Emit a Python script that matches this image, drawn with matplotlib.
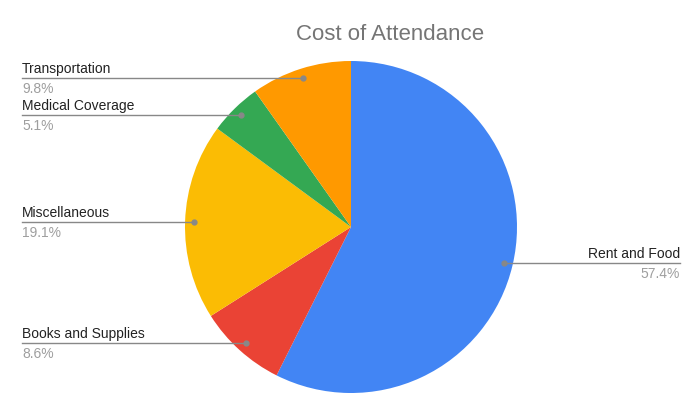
import matplotlib.pyplot as plt
import numpy as np

plt.rcParams['font.family'] = ['Liberation Sans', 'DejaVu Sans']

title = "Cost of Attendance"
labels = ["Rent and Food", "Books and Supplies", "Miscellaneous", "Medical Coverage", "Transportation"]
values = [57.4, 8.6, 19.1, 5.1, 9.8]
colors = ["#4285F4", "#EA4335", "#FBBC04", "#34A853", "#FF9900"]

W, H = 700, 414
fig = plt.figure(figsize=(7, 4.14), dpi=100)
ax = fig.add_axes([0, 0, 1, 1])
cx, cy, R = 351, H - 228, 166
ax.pie(values, colors=colors, startangle=90, counterclock=False,
       center=(cx, cy), radius=R, wedgeprops=dict(linewidth=0))
ax.set_xlim(0, W)
ax.set_ylim(0, H)
ax.set_aspect('equal')
ax.axis('off')

fig.text(390 / W, 1 - 35 / H, title, ha='center', va='center', fontsize=16, color='#757575')

total = sum(values)
cum = np.cumsum([0] + values[:-1])
line_col = '#888888'
for lab, v, c0 in zip(labels, values, cum):
    mid = (c0 + v / 2) / total * 2 * np.pi
    dx = cx + 0.945 * R * np.sin(mid)
    dy = cy + 0.945 * R * np.cos(mid)
    ax.plot([dx], [dy], 'o', color=line_col, ms=3.5, zorder=5)
    pct = f"{v / total * 100:.1f}%"
    if dx > cx:
        x_end = 680
        ax.plot([dx, x_end], [dy, dy], color=line_col, lw=1, zorder=4)
        ax.text(x_end, dy + 3, lab, ha='right', va='bottom', fontsize=10, color='#222222')
        ax.text(x_end, dy - 3, pct, ha='right', va='top', fontsize=10, color='#9e9e9e')
    else:
        x_end = 22
        ax.plot([dx, x_end], [dy, dy], color=line_col, lw=1, zorder=4)
        ax.text(x_end, dy + 3, lab, ha='left', va='bottom', fontsize=10, color='#222222')
        ax.text(x_end, dy - 3, pct, ha='left', va='top', fontsize=10, color='#9e9e9e')

fig.savefig('out.png', dpi=100, facecolor='white')
